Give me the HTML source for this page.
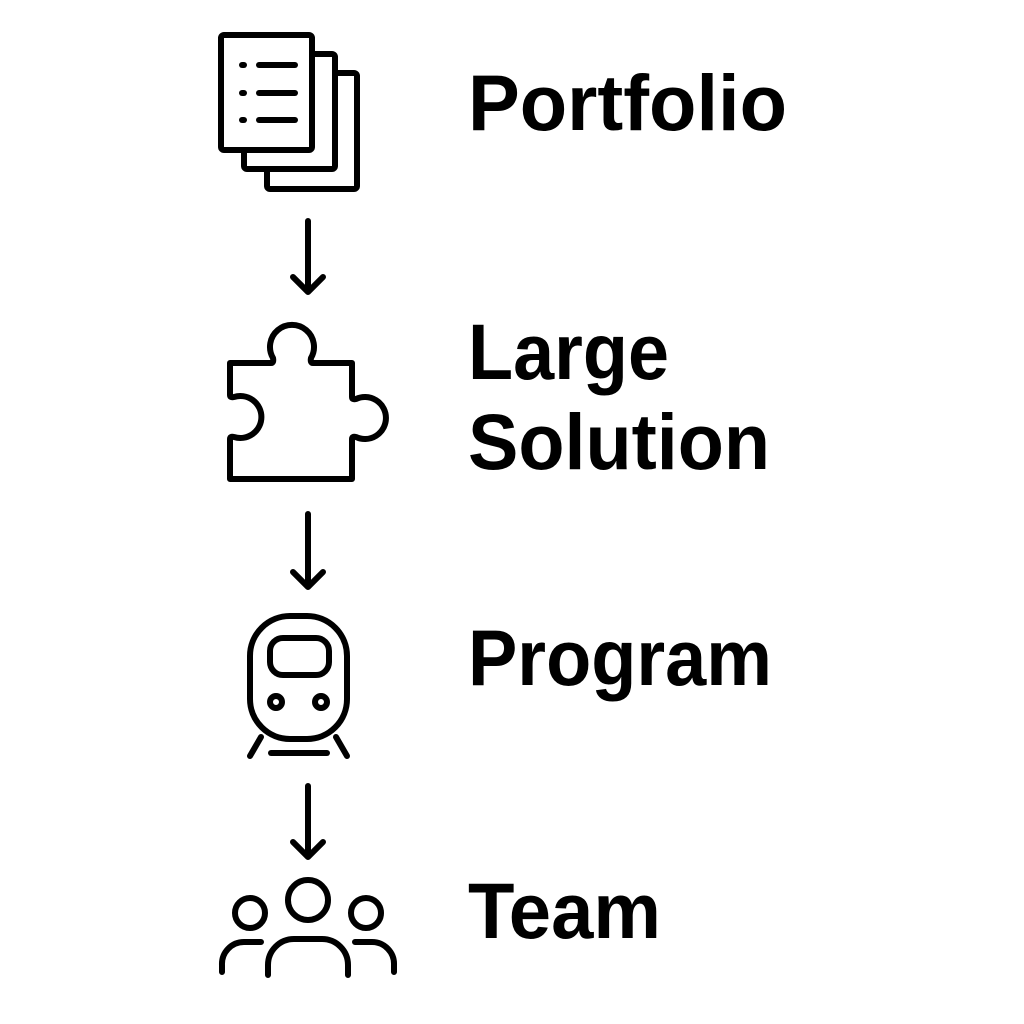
<!DOCTYPE html>
<html><head><meta charset="utf-8"><style>
html,body{margin:0;padding:0;background:#fff;}
svg{display:block;}
text{font-family:"Liberation Sans",sans-serif;font-weight:bold;font-size:79px;fill:#000;}
</style></head><body>
<svg width="1024" height="1024" viewBox="0 0 1024 1024" xmlns="http://www.w3.org/2000/svg">
<g fill="none" stroke="#000" stroke-width="6" stroke-linecap="round" stroke-linejoin="round">
<!-- documents -->
<rect x="267" y="73" width="90" height="116" rx="3"/>
<rect x="244" y="54" width="91" height="115" rx="3" fill="#fff"/>
<rect x="221" y="35" width="91" height="115" rx="3" fill="#fff"/>
<line x1="242" y1="65" x2="244" y2="65"/><line x1="259" y1="65" x2="295" y2="65"/>
<line x1="242" y1="93" x2="244" y2="93"/><line x1="259" y1="93" x2="295" y2="93"/>
<line x1="242" y1="120" x2="244" y2="120"/><line x1="259" y1="120" x2="295" y2="120"/>
<!-- arrows -->
<path d="M308 221 V292 M293 277 L308 292 L323 277"/>
<path d="M308 514 V587 M293 572 L308 587 L323 572"/>
<path d="M308 786 V857 M293 842 L308 857 L323 842"/>
<!-- puzzle -->
<path d="M230 363 H271 Q274 363 273 358 A22 22 0 1 1 311 358 Q310 363 313 363 H352 V397 Q352 400 356 399 A21 21 0 1 1 356 437 Q352 436 352 439 V479 H230 V439 Q230 436 234 437 A21 21 0 1 0 234 397 Q230 398 230 395 Z"/>
<!-- train -->
<rect x="250" y="616" width="97" height="123" rx="40"/>
<rect x="270" y="638" width="59" height="37" rx="13"/>
<circle cx="276" cy="702" r="6"/><circle cx="321" cy="702" r="6"/>
<line x1="261" y1="737" x2="250" y2="756"/><line x1="336" y1="737" x2="347" y2="756"/>
<line x1="271" y1="753" x2="327" y2="753"/>
<!-- team -->
<circle cx="308" cy="900" r="20"/>
<circle cx="250" cy="913" r="15"/>
<circle cx="366" cy="913" r="15"/>
<path d="M268 975 V965 A26 26 0 0 1 294 939 H322 A26 26 0 0 1 348 965 V975"/>
<path d="M222 972 V965 A22 22 0 0 1 244 942 H261"/>
<path d="M394 972 V965 A22 22 0 0 0 372 942 H355"/>
</g>
<text x="468" y="130" textLength="319" lengthAdjust="spacingAndGlyphs">Portfolio</text>
<text x="468" y="379" textLength="201" lengthAdjust="spacingAndGlyphs">Large</text>
<text x="468" y="469" textLength="302" lengthAdjust="spacingAndGlyphs">Solution</text>
<text x="468" y="685" textLength="304" lengthAdjust="spacingAndGlyphs">Program</text>
<text x="468" y="938" textLength="193" lengthAdjust="spacingAndGlyphs">Team</text>
</svg>
</body></html>
